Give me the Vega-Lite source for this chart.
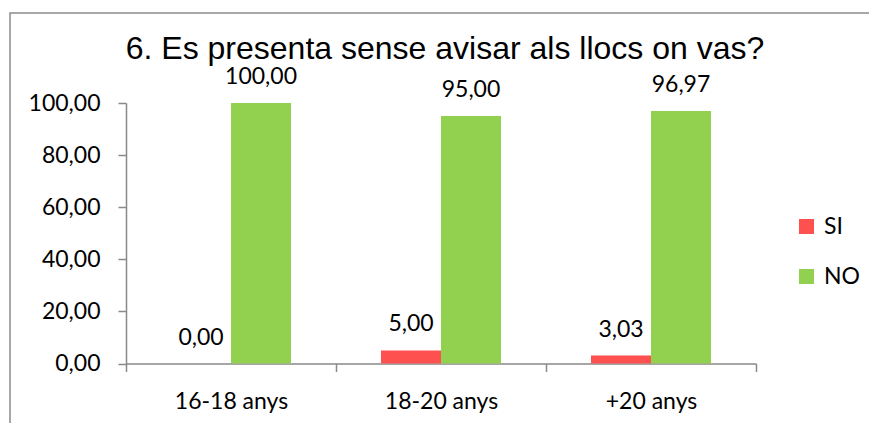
{
  "$schema": "https://vega.github.io/schema/vega-lite/v6.json",
  "width": 880,
  "height": 420,
  "autosize": {"type": "none"},
  "padding": {"left": 10, "top": 13, "right": 0, "bottom": 0},
  "background": "white",
  "config": {
    "locale": {"number": {"decimal": ",", "thousands": ".", "grouping": [3], "currency": ["", " €"]}},
    "view": {"stroke": "#8c8c8c", "strokeWidth": 1.5},
    "font": "Lato"
  },
  "title": {
    "text": "6. Es presenta sense avisar als llocs on vas?",
    "font": "Liberation Sans",
    "fontSize": 32,
    "fontWeight": "normal",
    "color": "black",
    "baseline": "alphabetic",
    "offset": -78,
    "dx": -5,
    "anchor": "middle"
  },
  "data": {
    "values": [
      {"grup": "16-18 anys", "resposta": "SI", "valor": 0},
      {"grup": "16-18 anys", "resposta": "NO", "valor": 100},
      {"grup": "18-20 anys", "resposta": "SI", "valor": 5},
      {"grup": "18-20 anys", "resposta": "NO", "valor": 95},
      {"grup": "+20 anys", "resposta": "SI", "valor": 3.03},
      {"grup": "+20 anys", "resposta": "NO", "valor": 96.97}
    ]
  },
  "encoding": {
    "x": {
      "field": "grup",
      "type": "nominal",
      "sort": ["16-18 anys", "18-20 anys", "+20 anys"],
      "scale": {"range": [116, 746], "paddingInner": 0, "paddingOuter": 0},
      "axis": {
        "title": null,
        "orient": "bottom",
        "offset": -69.5,
        "tickBand": "extent",
        "tickSize": 8,
        "tickWidth": 1.5,
        "tickColor": "#898989",
        "domainColor": "#898989",
        "domainWidth": 1.5,
        "labelAngle": 0,
        "labelBaseline": "alphabetic",
        "labelPadding": 36.5,
        "labelFont": "Lato",
        "labelFontSize": 23,
        "labelColor": "black",
        "grid": false
      }
    },
    "xOffset": {
      "field": "resposta",
      "type": "nominal",
      "sort": ["SI", "NO"],
      "scale": {"paddingInner": 0, "paddingOuter": 0.75}
    },
    "y": {
      "field": "valor",
      "type": "quantitative",
      "scale": {"domain": [0, 100], "range": [350.5, 90], "nice": false},
      "axis": {
        "title": null,
        "orient": "left",
        "offset": -116,
        "values": [0, 20, 40, 60, 80, 100],
        "format": ".2f",
        "tickSize": 8,
        "tickWidth": 1.5,
        "tickColor": "#898989",
        "domainColor": "#898989",
        "domainWidth": 1.5,
        "labelPadding": 18,
        "labelFont": "Lato",
        "labelFontSize": 23,
        "labelColor": "black",
        "grid": false
      }
    }
  },
  "layer": [
    {
      "mark": {"type": "bar"},
      "encoding": {
        "color": {
          "field": "resposta",
          "type": "nominal",
          "sort": ["SI", "NO"],
          "scale": {"domain": ["SI", "NO"], "range": ["#FF5050", "#92D050"]},
          "legend": {
            "title": null,
            "orient": "none",
            "legendX": 785,
            "legendY": 202,
            "padding": 0,
            "symbolType": "square",
            "symbolSize": 225,
            "symbolStrokeWidth": 0,
            "labelFont": "Lato",
            "labelFontSize": 23,
            "labelColor": "black",
            "labelOffset": 6,
            "rowPadding": 26
          }
        }
      }
    },
    {
      "mark": {
        "type": "text",
        "dy": -19,
        "baseline": "alphabetic",
        "align": "center",
        "font": "Lato",
        "fontSize": 23,
        "color": "black"
      },
      "encoding": {
        "text": {"field": "valor", "type": "quantitative", "format": ".2f"}
      }
    }
  ]
}
